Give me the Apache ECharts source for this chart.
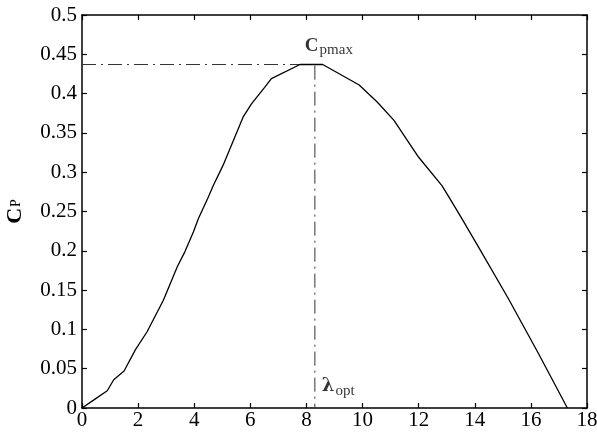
<!DOCTYPE html>
<html>
<head>
<meta charset="utf-8">
<script src="https://cdn.jsdelivr.net/npm/echarts@6/dist/echarts.min.js"></script>
<style>
  html, body { margin: 0; padding: 0; background: #fff; }
  #chart { width: 597px; height: 441px; }
</style>
</head>
<body>
<div id="chart"></div>
<script>
// Power coefficient curve Cp versus tip speed ratio lambda
const tipSpeedRatio = [0, 0.45, 0.9, 1.13, 1.5, 1.9, 2.32, 2.9, 3.4, 3.67, 3.97, 4.15, 4.5, 4.68, 5.03, 5.74, 6.04, 6.51, 6.75, 7.77, 8.58, 9.88, 10.53, 11.12, 12.0, 12.83, 13.07, 13.54, 14.13, 15.2, 16.26, 17.3];
const cpValues = [0, 0.011, 0.022, 0.036, 0.047, 0.074, 0.097, 0.137, 0.18, 0.199, 0.224, 0.241, 0.268, 0.283, 0.309, 0.37, 0.387, 0.408, 0.419, 0.437, 0.437, 0.411, 0.389, 0.366, 0.319, 0.283, 0.269, 0.241, 0.205, 0.139, 0.07, 0];

// Optimum operating point
const lambdaOpt = 8.3;
const cpMax = 0.437;

const xTicks = { min: 0, max: 18, interval: 2 };
const yTicks = { min: 0, max: 0.5, interval: 0.05 };

const font = 'Liberation Serif';
const curve = tipSpeedRatio.map((x, i) => [x, cpValues[i]]);
const guide = [[0, cpMax], [lambdaOpt, cpMax], [lambdaOpt, 0]];

const axisBase = {
  axisLine: { show: true, onZero: false, lineStyle: { color: '#000', width: 1.5 } },
  axisTick: { show: true, inside: true, length: 5, lineStyle: { color: '#000', width: 1.2 } },
  splitLine: { show: false }
};

const chart = echarts.init(document.getElementById('chart'), null, { renderer: 'canvas' });
chart.setOption({
  animation: false,
  backgroundColor: '#fff',
  grid: { left: 82, right: 10, top: 15, bottom: 33, outerBoundsMode: 'none', containLabel: false },
  xAxis: [
    Object.assign({}, axisBase, {
      type: 'value', position: 'bottom', min: xTicks.min, max: xTicks.max, interval: xTicks.interval,
      axisLabel: { color: '#000', fontFamily: font, fontSize: 21, margin: 2 }
    }),
    Object.assign({}, axisBase, {
      type: 'value', position: 'top', min: xTicks.min, max: xTicks.max, interval: xTicks.interval,
      axisLabel: { show: false }
    })
  ],
  yAxis: [
    Object.assign({}, axisBase, {
      type: 'value', position: 'left', min: yTicks.min, max: yTicks.max, interval: yTicks.interval,
      axisLabel: { color: '#000', fontFamily: font, fontSize: 21, margin: 5 },
      name: '{c|C}{s|P}',
      nameLocation: 'middle',
      nameGap: 56,
      nameRotate: 90,
      nameTextStyle: {
        rich: {
          c: { fontFamily: font, fontSize: 22, fontWeight: 'bold', color: '#000', verticalAlign: 'bottom', lineHeight: 22 },
          s: { fontFamily: font, fontSize: 14, color: '#000', verticalAlign: 'bottom', lineHeight: 22, padding: [0, 0, 3, 1] }
        }
      }
    }),
    Object.assign({}, axisBase, {
      type: 'value', position: 'right', min: yTicks.min, max: yTicks.max, interval: yTicks.interval,
      axisLabel: { show: false }
    })
  ],
  series: [
    {
      type: 'line',
      data: guide,
      symbol: 'none',
      lineStyle: { color: '#333', width: 1, type: [14, 5, 2, 5] },
      z: 1
    },
    {
      type: 'line',
      data: curve,
      symbol: 'none',
      lineStyle: { color: '#000', width: 1.3 },
      z: 2
    },
    {
      type: 'scatter',
      data: [[lambdaOpt, cpMax]],
      symbolSize: 0,
      label: {
        show: true,
        position: 'top',
        distance: 9,
        offset: [14, 0],
        formatter: '{c|C}{s|pmax}',
        rich: {
          c: { fontFamily: font, fontSize: 19, fontWeight: 'bold', color: '#000', verticalAlign: 'bottom', lineHeight: 19 },
          s: { fontFamily: font, fontSize: 15, color: '#000', verticalAlign: 'bottom', lineHeight: 19, padding: [0, 0, -2, 1] }
        }
      },
      z: 3
    },
    {
      type: 'scatter',
      data: [[lambdaOpt, 0.028]],
      symbolSize: 0,
      label: {
        show: true,
        position: 'right',
        distance: 7,
        formatter: '{l|λ}{s|opt}',
        rich: {
          l: { fontFamily: 'DejaVu Serif', fontSize: 18, fontWeight: 'bold', color: '#000', verticalAlign: 'bottom', lineHeight: 19 },
          s: { fontFamily: font, fontSize: 15, color: '#000', verticalAlign: 'bottom', lineHeight: 19, padding: [0, 0, -3, 1] }
        }
      },
      z: 3
    }
  ]
});
</script>
</body>
</html>
